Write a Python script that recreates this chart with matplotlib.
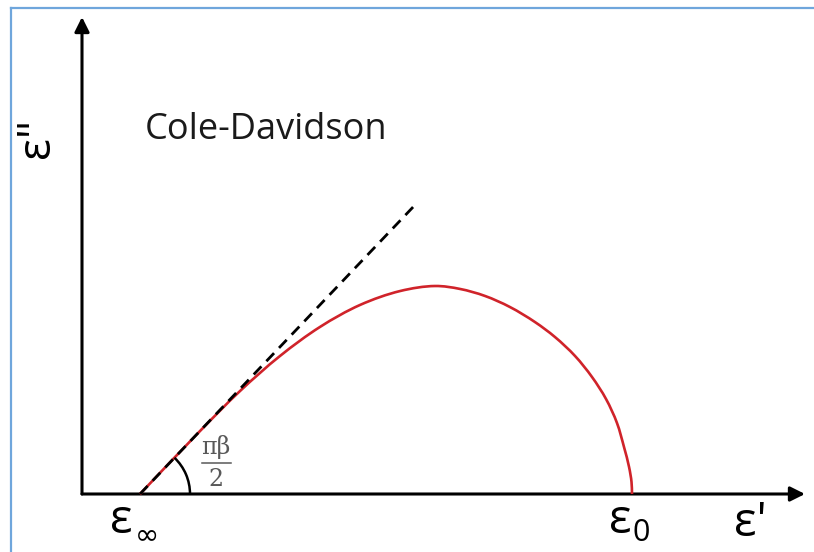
import matplotlib
matplotlib.use("Agg")
import matplotlib.pyplot as plt
from matplotlib.patches import Arc, PathPatch
from matplotlib.path import Path
from matplotlib.lines import Line2D
import numpy as np

# Cole-Davidson arc (eps', eps''), arbitrary units
eps_real = [1.000, 1.488, 1.813, 2.138, 2.463, 2.789, 3.114, 3.398, 3.602,
            3.805, 4.008, 4.211, 4.374, 4.537, 4.675, 4.789, 4.878, 4.935,
            4.976, 4.996, 5.000]
eps_imag = [0.000, 0.512, 0.837, 1.122, 1.358, 1.537, 1.650, 1.691, 1.667,
            1.610, 1.520, 1.398, 1.276, 1.122, 0.951, 0.772, 0.577, 0.382,
            0.220, 0.098, 0.000]

# limiting tangent at eps_inf, angle pi*beta/2
tangent_x = [1.000, 3.220]
tangent_y = [0.000, 2.333]

eps_inf = 1.0
eps_0 = 5.0


def smooth_path(xs, ys):
    # centripetal Catmull-Rom through the points, as cubic Bezier segments
    pts = np.column_stack([xs, ys])
    n = len(pts)
    verts = [pts[0]]
    codes = [Path.MOVETO]
    for i in range(n - 1):
        p0 = pts[i - 1] if i > 0 else 2 * pts[i] - pts[i + 1]
        p1, p2 = pts[i], pts[i + 1]
        p3 = pts[i + 2] if i + 2 < n else 2 * pts[i + 1] - pts[i]
        d1 = np.linalg.norm(p1 - p0) ** 0.5
        d2 = np.linalg.norm(p2 - p1) ** 0.5
        d3 = np.linalg.norm(p3 - p2) ** 0.5
        m1 = (p1 - p0) / d1 - (p2 - p0) / (d1 + d2) + (p2 - p1) / d2
        m2 = (p2 - p1) / d2 - (p3 - p1) / (d2 + d3) + (p3 - p2) / d3
        m1 *= d2
        m2 *= d2
        verts += [p1 + m1 / 3, p2 - m2 / 3, p2]
        codes += [Path.CURVE4] * 3
    return Path(verts, codes)


W, H = 814, 552
fig = plt.figure(figsize=(W / 100, H / 100), dpi=100)
fig.patch.set_facecolor("white")

# plot area in pixels: origin (82, 494), arrow tips at x=805 and y=17
x0, y0, x1, y1 = 82, 494, 805, 17
ax = fig.add_axes([x0 / W, (H - y0) / H, (x1 - x0) / W, (y0 - y1) / H])
ppu = 123.0  # pixels per data unit
xmin = eps_inf - (140 - x0) / ppu
ax.set_xlim(xmin, xmin + (x1 - x0) / ppu)
ax.set_ylim(0, (y0 - y1) / ppu)
ax.axis("off")

# axes with arrow heads
arrow = dict(arrowstyle="-|>", color="black", lw=2.2, mutation_scale=22,
             shrinkA=0, shrinkB=0)
ax.annotate("", xy=(1, 0), xytext=(0, 0), xycoords="axes fraction",
            textcoords="axes fraction", arrowprops=arrow, annotation_clip=False)
ax.annotate("", xy=(0, 1), xytext=(0, 0), xycoords="axes fraction",
            textcoords="axes fraction", arrowprops=arrow, annotation_clip=False)

ax.add_patch(PathPatch(smooth_path(eps_real, eps_imag), facecolor="none",
                       edgecolor="#D0232A", lw=1.9, zorder=3, clip_on=False))
ax.plot(tangent_x, tangent_y, color="black", lw=2.0, dashes=(4, 2.6), zorder=4)

slope_deg = np.degrees(np.arctan2(tangent_y[1] - tangent_y[0], tangent_x[1] - tangent_x[0]))
r = 50 / ppu
ax.add_patch(Arc((eps_inf, 0), 2 * r, 2 * r, theta1=0, theta2=slope_deg,
                 color="black", lw=1.8, zorder=4))


# labels placed in pixel space
def px(x, y, s, **kw):
    fig.text(x / W, 1 - y / H, s, **kw)


fam = ["Open Sans", "DejaVu Sans"]
serif = ["DejaVu Serif"]
grey = "#595959"

# pi*beta/2 next to the angle arc
px(216, 447, "πβ", fontsize=17, family=serif, color=grey, ha="center", va="center")
fig.add_artist(Line2D([202 / W, 231 / W], [1 - 463 / H, 1 - 463 / H], color=grey, lw=1.1))
px(216, 480, "2", fontsize=17, family=serif, color=grey, ha="center", va="center")

px(145, 130, "Cole-Davidson", fontsize=26, family=fam, color="#1a1a1a", va="center")
px(37, 138, 'ε"', fontsize=33, family=fam, rotation=90, ha="center", va="center")
px(121, 520, "ε", fontsize=34, family=fam, ha="center", va="center")
px(147, 535, "∞", fontsize=21, family=["DejaVu Sans"], ha="center", va="center")
px(620, 520, "ε", fontsize=34, family=fam, ha="center", va="center")
px(641, 533, "0", fontsize=22, family=fam, ha="center", va="center")
px(750, 523, "ε'", fontsize=34, family=fam, ha="center", va="center")

# thin blue frame on top and left
blue = "#6FA6DC"
fig.add_artist(Line2D([11 / W, 1], [1 - 8 / H, 1 - 8 / H], color=blue, lw=1.6))
fig.add_artist(Line2D([11 / W, 11 / W], [0, 1 - 8 / H], color=blue, lw=1.6))

fig.savefig("out.png", dpi=100)
